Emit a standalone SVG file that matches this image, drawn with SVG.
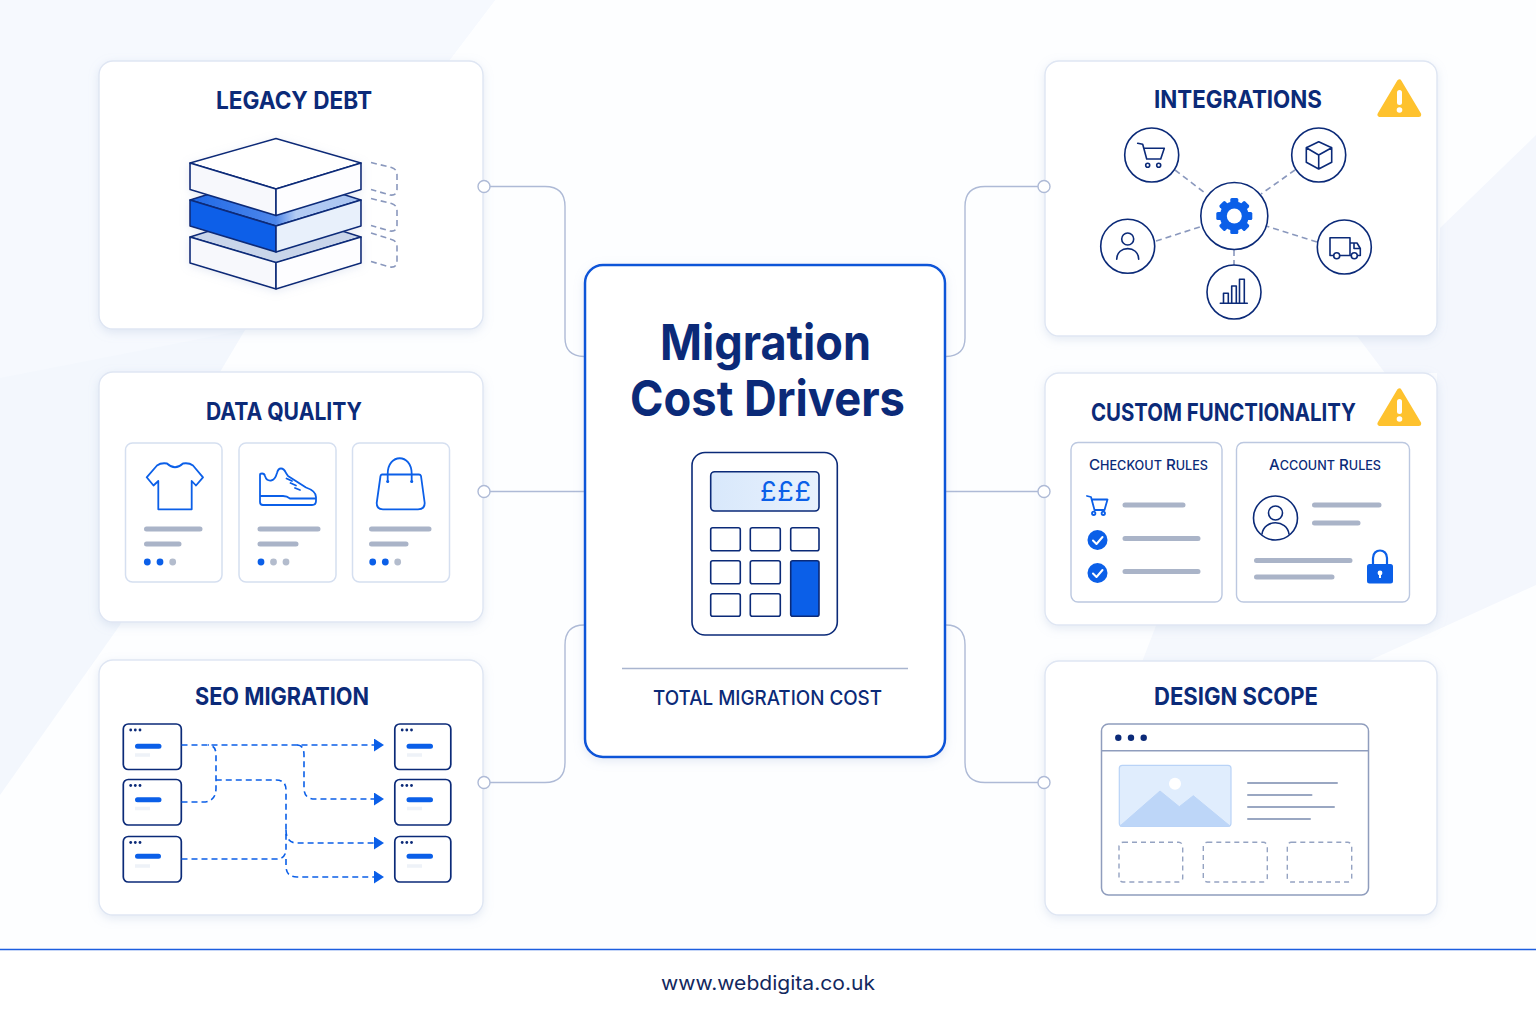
<svg xmlns="http://www.w3.org/2000/svg" xmlns:xlink="http://www.w3.org/1999/xlink" width="1536" height="1024" viewBox="0 0 1536 1024">
<style>
text{font-family:"Inter","Roboto","Liberation Sans",sans-serif;fill:#0b2a78}
.t{font-size:24px;font-weight:700;text-anchor:start}
.card{fill:#fff;stroke:#dfe6f3;stroke-width:1.4;filter:url(#sh)}
.conn{fill:none;stroke:#aebad6;stroke-width:1.4}
.dot{fill:#fff;stroke:#aebad6;stroke-width:1.4}
.nv{fill:none;stroke:#0b2a78;stroke-width:1.6;stroke-linejoin:round;stroke-linecap:round}
.nvf{fill:#fff;stroke:#0b2a78;stroke-width:1.6}
.bl{fill:none;stroke:#0b5fe8;stroke-width:1.8;stroke-linejoin:round;stroke-linecap:round}
.gr{stroke:#aab4c8;stroke-width:5;stroke-linecap:round;fill:none}
.pn{fill:#fff;stroke:#d5dff0;stroke-width:1.5}
.pn2{fill:#fff;stroke:#bcc8e0;stroke-width:1.4}
.dash{fill:none;stroke:#0b5fe8;stroke-width:1.6;stroke-dasharray:6 4}
.dg{fill:none;stroke:#8a98bd;stroke-width:1.6;stroke-dasharray:6 4}
.b{fill:#0b5fe8}.g{fill:#b3bccd}.n{fill:#0b2a78}
.pg{fill:#fff;stroke:#0b2a78;stroke-width:1.6}
.ln{fill:none;stroke:#9aa7c2;stroke-width:2;stroke-linecap:round}
.sl{stroke:#0b2a78;stroke-width:1.6;stroke-linejoin:round}
</style>
<defs>
<filter id="sh" x="-10%" y="-10%" width="120%" height="125%"><feDropShadow dx="0" dy="3" stdDeviation="5" flood-color="#9db0d4" flood-opacity="0.26"/></filter>
<filter id="sh2" x="-10%" y="-10%" width="120%" height="120%"><feDropShadow dx="0" dy="2" stdDeviation="4" flood-color="#9db0d4" flood-opacity="0.25"/></filter>
<marker id="ar" markerUnits="userSpaceOnUse" markerWidth="11" markerHeight="13" refX="1" refY="6.5" orient="auto"><path d="M0 0L10 6.5L0 13Z" fill="#0b5fe8"/></marker>
<linearGradient id="strip" x1="0" x2="1" y1="0" y2="0"><stop offset="0" stop-color="#1f68e6"/><stop offset="0.5" stop-color="#4d86ea"/><stop offset="0.62" stop-color="#b4ccf3"/><stop offset="1" stop-color="#a9c4f1"/></linearGradient>
<linearGradient id="scr" x1="0" x2="1" y1="0" y2="0"><stop offset="0" stop-color="#d8e8fb"/><stop offset="1" stop-color="#e8f1fd"/></linearGradient>
<g id="win"><rect x="0" y="0" width="58" height="45.5" rx="5" fill="#fff" stroke="#0b2a78" stroke-width="1.7"/><circle cx="7.4" cy="6" r="1.4" class="n"/><circle cx="12" cy="6" r="1.4" class="n"/><circle cx="16.7" cy="6" r="1.4" class="n"/></g>
<g id="winr"><rect x="0" y="0" width="56" height="45.5" rx="5" fill="#fff" stroke="#0b2a78" stroke-width="1.7"/><circle cx="7.4" cy="6" r="1.4" class="n"/><circle cx="12" cy="6" r="1.4" class="n"/><circle cx="16.7" cy="6" r="1.4" class="n"/></g>
<g id="warn"><path d="M1399.3 82L1380 114.500H1418.700Z" fill="#fec22e" stroke="#fec22e" stroke-width="5" stroke-linejoin="round"/><rect x="1397" y="90" width="5" height="15" rx="2.500" fill="#fff"/><circle cx="1399.500" cy="110" r="2.800" fill="#fff"/></g>
</defs>

<rect id="bg" width="1536" height="1024" fill="#fdfeff"/>
<g id="backdrop">
<path d="M0 0H495L245 330L220 372L120 625L0 795Z" fill="#f3f7fd"/>
<path d="M0 0H495L245 330L0 378Z" fill="#f6f9fe"/>
<path d="M1536 135L1440 228L1437 330L1357 336L1385 373H1437V630L1536 585Z" fill="#f4f7fd"/>
<path d="M1162 610L1142 662H1366L1437 630V610Z" fill="#f5f8fd"/>
<rect y="949" width="1536" height="75" fill="#fff"/>
</g>
<line id="footer-rule" x1="0" y1="949.500" x2="1536" y2="949.500" stroke="#1c5ee0" stroke-width="1.500"/>

<g id="connectors">
<path class="conn" d="M490 186.500H545Q565 186.500 565 206.500V338Q565 356 584 356.500"/>
<path class="conn" d="M490 491.500H584"/>
<path class="conn" d="M490 782.500H545Q565 782.500 565 762.500V645Q565 625 584 625"/>
<path class="conn" d="M1038 186.500H985Q965 186.500 965 206.500V338Q965 356 946 356.500"/>
<path class="conn" d="M1038 491.500H946"/>
<path class="conn" d="M1038 782.500H985Q965 782.500 965 762.500V645Q965 625 946 625"/>
</g>

<g id="legacy-debt">
<rect class="card" x="99" y="61" width="384" height="268" rx="14"/>
<circle class="dot" cx="484" cy="186.500" r="6"/>
<text class="t" x="216" y="108.500" textLength="156" lengthAdjust="spacingAndGlyphs">LEGACY DEBT</text>
<g filter="url(#sh2)">
<path class="sl" d="M190 237L276 210L361 237L276 263Z" fill="#c9d5ea"/>
<path class="sl" d="M190 237L276 262.500V289L190 263Z" fill="#f7f8fc"/>
<path class="sl" d="M361 237L276 262.500V289L361 263Z" fill="#fdfdff"/>
<path class="sl" d="M190 200L276 173L361 200L276 226Z" fill="url(#strip)"/>
<path class="sl" d="M190 200L276 226V252L190 226Z" fill="#0b5fe8"/>
<path class="sl" d="M361 200L276 226V252L361 226Z" fill="#e8f0fb"/>
<path class="sl" d="M276 138.500L361 163L276 189L190 163Z" fill="#fff"/>
<path class="sl" d="M190 163L276 189V215.500L190 189.500Z" fill="#f7f8fc"/>
<path class="sl" d="M361 163L276 189V215.500L361 189.500Z" fill="#fdfdff"/>
</g>
<path class="dg" d="M371 162.500L391.500 167.500Q397 169 397 175V189Q397 196 390 195L371 189.500"/>
<path class="dg" d="M371 198.500L391.500 203.500Q397 205 397 211V225Q397 232 390 231L371 225.500"/>
<path class="dg" d="M371 233L391.500 239.500Q397 241 397 247V261Q397 268 390 267L371 261.500"/>
</g>

<g id="data-quality">
<rect class="card" x="99" y="372" width="384" height="250" rx="14"/>
<circle class="dot" cx="484" cy="491.500" r="6"/>
<text class="t" x="206" y="419.500" textLength="156" lengthAdjust="spacingAndGlyphs">DATA QUALITY</text>
<rect class="pn" x="125.500" y="443" width="96.500" height="139" rx="7"/>
<rect class="pn" x="239" y="443" width="97" height="139" rx="7"/>
<rect class="pn" x="352.500" y="443" width="97" height="139" rx="7"/>
<path class="bl" d="M167 463.500Q175 471 183 463.500Q189 462.500 193 465.500L203 477.300L196 485.500L191.700 481V509.300H158.300V481L153.500 485.500L146.700 477.300L157 465.500Q161 462.500 167 463.500Z"/>
<path class="bl" d="M260 475Q260 473.500 262 473.500Q264.500 473.500 265 476Q266.500 481 271 480.500Q275 480 277 473Q278 468.500 281 468.500Q284 468.500 286 473L288 476L306 487.500Q316 491 316 497V501Q316 505 312 505H263Q260 505 260 502ZM260 496H283Q287 496 290 498.500H316M286.500 478.500L292 481M290.500 483L296 485.500M295 488L300 490"/>
<path class="bl" d="M387.700 481.500V474C387.700 453 411.700 453 411.700 474V481.500M382 474.500H419Q420.500 474.500 421 476L424.700 503Q424.700 509.300 418 509.300H383Q376.700 509.300 376.700 503L380.500 476Q381 474.500 382 474.500Z"/>
<circle class="b" cx="387.700" cy="481.500" r="1.500"/><circle class="b" cx="411.700" cy="481.500" r="1.500"/>
<path class="gr" d="M146.500 529H200M146.500 544H179M260 529H318M260 544H296M371.500 529H429M371.500 544H406"/>
<circle class="b" cx="147.300" cy="562" r="3.400"/><circle class="b" cx="160" cy="562" r="3.400"/><circle class="g" cx="172.700" cy="562" r="3.400"/>
<circle class="b" cx="261" cy="562" r="3.400"/><circle class="g" cx="273.500" cy="562" r="3.400"/><circle class="g" cx="286" cy="562" r="3.400"/>
<circle class="b" cx="372.700" cy="562" r="3.400"/><circle class="b" cx="385.300" cy="562" r="3.400"/><circle class="g" cx="397.700" cy="562" r="3.400"/>
</g>

<g id="seo-migration">
<rect class="card" x="99" y="660" width="384" height="255" rx="14"/>
<circle class="dot" cx="484" cy="782.500" r="6"/>
<text class="t" x="195" y="704.500" textLength="174" lengthAdjust="spacingAndGlyphs">SEO MIGRATION</text>
<use xlink:href="#win" href="#win" x="123.300" y="724"/>
<use xlink:href="#win" href="#win" x="123.300" y="779.500"/>
<use xlink:href="#win" href="#win" x="123.300" y="836.500"/>
<use xlink:href="#winr" href="#winr" x="394.800" y="724"/>
<use xlink:href="#winr" href="#winr" x="394.800" y="779.500"/>
<use xlink:href="#winr" href="#winr" x="394.800" y="836.500"/>
<path d="M137.500 746.300H159M137.500 799.700H159M137.500 856.300H158.500M409 746.300H430.500M409 799.700H430.500M409 856.300H430.500" fill="none" stroke="#0b5fe8" stroke-width="5" stroke-linecap="round"/>
<path d="M135 755H150M135 808.500H150M135 866H150M407 755H422M407 808.500H422M407 866H422" fill="none" stroke="#eef2f8" stroke-width="3.500"/>
<path class="dash" marker-end="url(#ar)" d="M181.500 745H375"/>
<path class="dash" d="M181.500 802H203Q216 802 216 788V755Q216 745 208 745"/>
<path class="dash" d="M181.500 859H276Q286 859 286 849V790Q286 780 276 780H216"/>
<path class="dash" marker-end="url(#ar)" d="M297 745Q304 745 304 755V788Q304 799 315 799H375"/>
<path class="dash" marker-end="url(#ar)" d="M286 830Q286 843 297 843H375"/>
<path class="dash" marker-end="url(#ar)" d="M286 859V866Q286 877 297 877H375"/>
</g>

<g id="migration-cost-drivers">
<rect x="585" y="265" width="360" height="492" rx="18" fill="#fff" stroke="#0b55d8" stroke-width="2.500" filter="url(#sh)"/>
<text x="660" y="360" font-size="49" font-weight="700" textLength="211" lengthAdjust="spacingAndGlyphs">Migration</text>
<text x="630" y="416" font-size="49" font-weight="700" textLength="275" lengthAdjust="spacingAndGlyphs">Cost Drivers</text>
<rect class="pg" x="692" y="452.500" width="145.300" height="182.500" rx="13"/>
<rect x="710.700" y="471.700" width="108.300" height="39.300" rx="4" fill="url(#scr)" stroke="#0b2a78" stroke-width="1.600"/>
<text x="760" y="501" font-size="27" font-weight="400" style="fill:#0b5fe8" textLength="51" lengthAdjust="spacing">£££</text>
<g class="pg"><rect x="710.700" y="527.700" width="29.600" height="23" rx="2"/><rect x="750.300" y="527.700" width="30" height="23" rx="2"/><rect x="790.700" y="527.700" width="28.300" height="23" rx="2"/>
<rect x="710.700" y="560.700" width="29.600" height="23" rx="2"/><rect x="750.300" y="560.700" width="30" height="23" rx="2"/>
<rect x="710.700" y="593.700" width="29.600" height="22.600" rx="2"/><rect x="750.300" y="593.700" width="30" height="22.600" rx="2"/></g>
<rect x="790.700" y="560.700" width="28.300" height="55.600" rx="2" fill="#0b5fe8" stroke="#0b2a78" stroke-width="1.600"/>
<line x1="622" y1="668.500" x2="908" y2="668.500" stroke="#a9b5cf" stroke-width="1.500"/>
<text x="653" y="705" font-size="20" font-weight="500" textLength="229" lengthAdjust="spacingAndGlyphs">TOTAL MIGRATION COST</text>
</g>

<g id="integrations">
<rect class="card" x="1045" y="61" width="392" height="275" rx="14"/>
<circle class="dot" cx="1044" cy="186.500" r="6"/>
<text class="t" x="1154" y="108" textLength="168" lengthAdjust="spacingAndGlyphs">INTEGRATIONS</text>
<use xlink:href="#warn" href="#warn"/>
<path class="dg" d="M1175 170L1205 193M1295 170L1261 194M1156 241L1203 226M1317 242L1266 226M1234 250V266"/>
<circle class="nvf" cx="1234.300" cy="216" r="33.500"/>
<g fill="#0b5fe8" transform="translate(1234.300 216)"><rect x="-4" y="-18" width="8" height="36" rx="1.500"/><rect x="-4" y="-18" width="8" height="36" rx="1.500" transform="rotate(45)"/><rect x="-4" y="-18" width="8" height="36" rx="1.500" transform="rotate(90)"/><rect x="-4" y="-18" width="8" height="36" rx="1.500" transform="rotate(135)"/><circle r="14.500"/><circle r="7.500" fill="#fff"/></g>
<circle class="nvf" cx="1151.700" cy="155" r="27"/>
<path class="nv" d="M1137.700 143.300L1142.700 144.300L1146.700 159H1160.700L1164.300 148.300H1143.700"/><circle class="nv" cx="1147.700" cy="165.300" r="2"/><circle class="nv" cx="1158.700" cy="165.300" r="2"/>
<circle class="nvf" cx="1318.700" cy="155" r="27"/>
<path class="nv" d="M1318.700 141.700L1331.700 147.700V162.300L1318.700 169L1306.300 162.300V147.700ZM1306.300 147.700L1318.700 155L1331.700 147.700M1318.700 155V169"/>
<circle class="nvf" cx="1127.700" cy="246.300" r="27"/>
<circle class="nv" cx="1127.700" cy="239" r="6"/><path class="nv" d="M1116.700 259.300C1116.700 245 1138.700 245 1138.700 259.300"/>
<circle class="nvf" cx="1344.300" cy="247" r="27"/>
<path class="nv" d="M1333.500 255.500H1330V237.700H1350V255.500H1340M1350 243H1357L1360.300 248.500V255.500H1358M1350.500 255.500H1351M1354 243.500V248.500H1360"/><circle class="nv" cx="1336.700" cy="255.700" r="3"/><circle class="nv" cx="1354.300" cy="255.700" r="3"/>
<circle class="nvf" cx="1234" cy="292" r="27"/>
<path class="nv" d="M1220.300 303.300H1247.300M1223.500 303.300V293.300H1228.300V303.300M1231.700 303.300V286H1236.300V303.300M1239.500 303.300V279.300H1244.300V303.300"/>
</g>

<g id="custom-functionality">
<rect class="card" x="1045" y="373" width="392" height="252" rx="14"/>
<circle class="dot" cx="1044" cy="491.500" r="6"/>
<text class="t" x="1091" y="420.500" textLength="265" lengthAdjust="spacingAndGlyphs">CUSTOM FUNCTIONALITY</text>
<use xlink:href="#warn" href="#warn" y="309"/>
<rect class="pn2" x="1071" y="442.500" width="151" height="159.500" rx="7"/>
<rect class="pn2" x="1236.500" y="442.500" width="173" height="159.500" rx="7"/>
<text x="1089" y="469.500" font-weight="500" font-size="15" textLength="119" lengthAdjust="spacingAndGlyphs">C<tspan font-size="12.500">HECKOUT</tspan> R<tspan font-size="12.500">ULES</tspan></text>
<text x="1269" y="469.500" font-weight="500" font-size="15" textLength="112" lengthAdjust="spacingAndGlyphs">A<tspan font-size="12.500">CCOUNT</tspan> R<tspan font-size="12.500">ULES</tspan></text>
<path class="bl" d="M1087 496L1091 497L1094.500 510H1104.500L1107.500 499.500H1092"/><circle class="bl" cx="1093.700" cy="513.300" r="1.700"/><circle class="bl" cx="1103.300" cy="513.300" r="1.700"/>
<circle class="b" cx="1097.500" cy="540" r="10"/><circle class="b" cx="1097.500" cy="573" r="10"/>
<path d="M1093 540.500L1096.500 544L1102.500 537M1093 573.500L1096.500 577L1102.500 570" fill="none" stroke="#fff" stroke-width="2" stroke-linecap="round" stroke-linejoin="round"/>
<path class="gr" d="M1125 505H1183M1125 538.500H1198M1125 571.500H1198M1314.500 505H1379M1314.500 523H1358M1256.500 560.500H1350M1256.500 577H1332"/>
<circle class="nvf" cx="1275.500" cy="518" r="22"/>
<circle class="nv" cx="1275.500" cy="513" r="7"/><path class="nv" d="M1262 534C1264 519 1287 519 1289 534"/>
<path d="M1373 564V558C1373 548 1387 548 1387 558V564" fill="none" stroke="#0b5fe8" stroke-width="2.200"/>
<rect class="b" x="1367" y="564" width="26" height="19.500" rx="2.500"/>
<circle cx="1380" cy="573" r="2.400" fill="#fff"/><rect x="1379" y="573" width="2" height="5" fill="#fff"/>
</g>

<g id="design-scope">
<rect class="card" x="1045" y="661" width="392" height="254" rx="14"/>
<circle class="dot" cx="1044" cy="782.500" r="6"/>
<text class="t" x="1154" y="704.500" textLength="164" lengthAdjust="spacingAndGlyphs">DESIGN SCOPE</text>
<rect x="1101.500" y="724" width="267" height="171" rx="7" fill="#fff" stroke="#8f9dbd" stroke-width="1.500"/>
<line x1="1101.500" y1="750.700" x2="1368.500" y2="750.700" stroke="#8f9dbd" stroke-width="1.500"/>
<circle class="n" cx="1118.300" cy="737.700" r="3.200"/><circle class="n" cx="1131" cy="737.700" r="3.200"/><circle class="n" cx="1143.700" cy="737.700" r="3.200"/>
<rect x="1119.300" y="765.300" width="111.700" height="61" rx="3" fill="#e0edfd" stroke="#b9d3f7" stroke-width="1.200"/>
<path d="M1120 826L1160 791L1179.300 806.700L1193.300 795.700L1230 826Z" fill="#bdd6f8" stroke="#bdd6f8" stroke-linejoin="round"/>
<circle cx="1175" cy="783.700" r="6" fill="#fff"/>
<path class="ln" d="M1248 783H1337M1248 795H1311.500M1248 807H1334M1248 819H1310"/>
<g fill="none" stroke="#95a3c2" stroke-width="1.400" stroke-dasharray="5 4"><rect x="1119" y="842.300" width="63.700" height="39.700" rx="4"/><rect x="1203.300" y="842.300" width="64" height="39.700" rx="4"/><rect x="1287.300" y="842.300" width="64.400" height="39.700" rx="4"/></g>
</g>

<text id="footer-url" x="661" y="990" font-size="19.500" textLength="214" lengthAdjust="spacingAndGlyphs" style="fill:#12285e">www.webdigita.co.uk</text>
</svg>
